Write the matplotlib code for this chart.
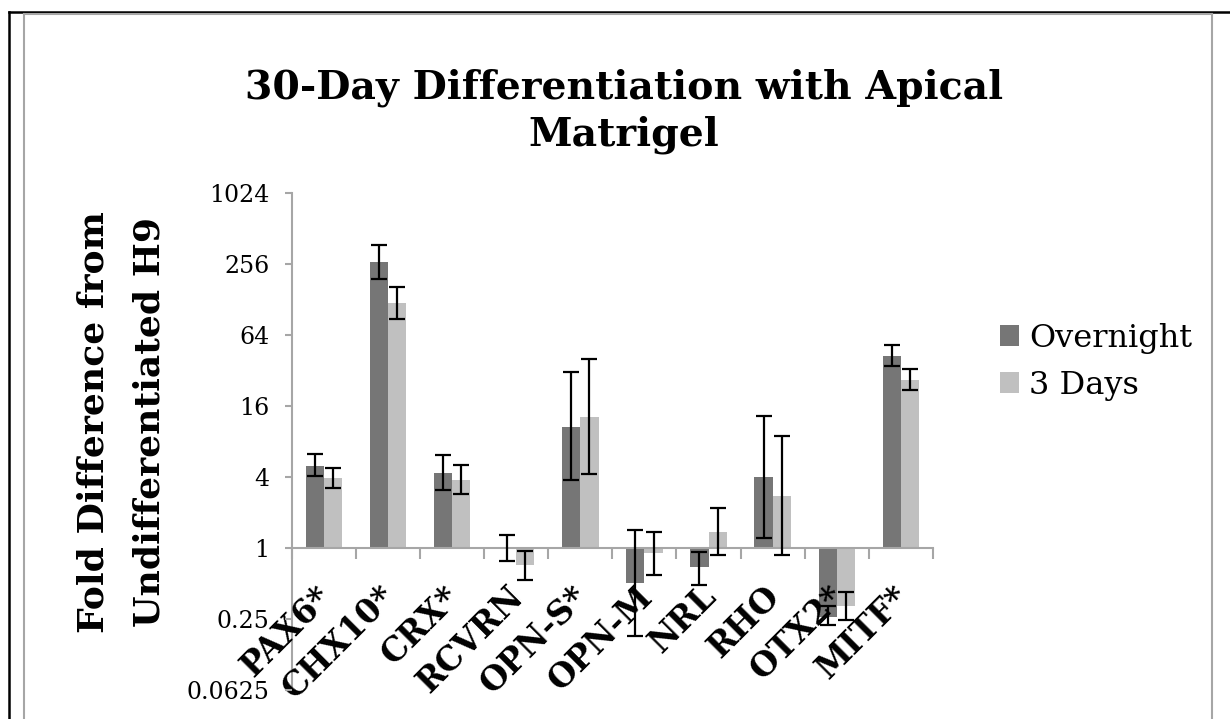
import numpy as np
import matplotlib
matplotlib.use('Agg')
import matplotlib.pyplot as plt
from matplotlib.lines import Line2D
from matplotlib.ticker import FixedLocator, FixedFormatter
from matplotlib.transforms import ScaledTranslation

# Data (fold difference, log2 axis)
genes = ['PAX6*', 'CHX10*', 'CRX*', 'RCVRN', 'OPN-S*', 'OPN-M', 'NRL', 'RHO', 'OTX2*', 'MITF*']
overnight = [4.97, 265, 4.3, 1.0, 10.6, 0.50, 0.68, 3.97, 0.26, 42.5]
overnight_lo = [4.02, 191, 3.06, 0.765, 3.72, 0.18, 0.48, 1.21, 0.22, 35]
overnight_hi = [6.23, 371, 6.06, 1.29, 31, 1.40, 0.92, 13.2, 0.32, 52]
days3 = [3.9, 119, 3.77, 0.71, 12.8, 0.90, 1.36, 2.74, 0.32, 26.6]
days3_lo = [3.2, 87, 2.87, 0.535, 4.21, 0.59, 0.86, 0.86, 0.245, 21.7]
days3_hi = [4.74, 164, 5.0, 0.93, 39.5, 1.37, 2.17, 8.85, 0.42, 32.9]
yticks = [0.0625, 0.25, 1, 4, 16, 64, 256, 1024]
ytick_labels = ['0.0625', '0.25', '1', '4', '16', '64', '256', '1024']

plt.rcParams['font.family'] = 'DejaVu Serif'

fig = plt.figure(figsize=(12.3, 7.19), dpi=100)
ax = fig.add_axes([0.2372, 0.0407, 0.5213, 0.6913])
ax.set_axisbelow(False)

x = np.arange(len(genes)) + 0.5
w = 0.285
ov = np.array(overnight)
d3 = np.array(days3)
ov_err = [ov - np.array(overnight_lo), np.array(overnight_hi) - ov]
d3_err = [d3 - np.array(days3_lo), np.array(days3_hi) - d3]

ax.bar(x - w / 2, ov - 1, bottom=1, width=w, color='#767676', label='Overnight', zorder=2)
ax.bar(x + w / 2, d3 - 1, bottom=1, width=w, color='#c0c0c0', label='3 Days', zorder=2)
ax.errorbar(x - w / 2, ov, yerr=ov_err, fmt='none', ecolor='black', elinewidth=1.6,
            capsize=6, capthick=1.6, zorder=3)
ax.errorbar(x + w / 2, d3, yerr=d3_err, fmt='none', ecolor='black', elinewidth=1.6,
            capsize=6, capthick=1.6, zorder=3)

ax.set_yscale('log', base=2)
ax.set_ylim(0.0625, 1024)
ax.set_xlim(0, len(genes))
ax.yaxis.set_major_locator(FixedLocator(yticks))
ax.yaxis.set_major_formatter(FixedFormatter(ytick_labels))
ax.yaxis.set_minor_locator(FixedLocator([]))

axis_gray = '#a6a6a6'
for s in ['top', 'right']:
    ax.spines[s].set_visible(False)
ax.spines['left'].set_color(axis_gray)
ax.spines['left'].set_linewidth(1.5)
ax.spines['bottom'].set_position(('data', 1))
ax.spines['bottom'].set_color(axis_gray)
ax.spines['bottom'].set_linewidth(1.5)

ax.tick_params(axis='y', which='major', length=5, width=1.5, color=axis_gray,
               labelsize=17, pad=11)
ax.set_xticks(x)
ax.set_xticklabels(genes, rotation=45, ha='right', rotation_mode='anchor',
                   fontsize=23.5, fontweight='bold')
ax.tick_params(axis='x', which='major', length=0, pad=23)
ax.set_xticks(np.arange(len(genes) + 1), minor=True)
ax.tick_params(axis='x', which='minor', length=8, width=1.5, color=axis_gray, direction='out')
shift = ScaledTranslation(-9 / 100, 0, fig.dpi_scale_trans)
for lab in ax.get_xticklabels():
    lab.set_transform(lab.get_transform() + shift)

fig.text(0.507, 0.878, '30-Day Differentiation with Apical', ha='center', va='center',
         fontsize=28.4, fontweight='bold')
fig.text(0.507, 0.812, 'Matrigel', ha='center', va='center',
         fontsize=28.4, fontweight='bold')
fig.text(0.0988, 0.413, 'Fold Difference from\nUndifferentiated H9', rotation=90,
         ha='center', va='center', multialignment='center', fontsize=26,
         fontweight='bold', linespacing=1.8)

ax.legend(loc='center left', bbox_to_anchor=(0.813, 0.497), bbox_transform=fig.transFigure,
          frameon=False, fontsize=23, handlelength=0.6, handleheight=0.6,
          handletextpad=0.32, labelspacing=0.5, borderpad=0, borderaxespad=0)

# page frame around the chart
fig.add_artist(Line2D([0.0073, 1.0], [0.9833, 0.9833], color='black', lw=1.8))
fig.add_artist(Line2D([0.0073, 0.0073], [0.0, 0.9833], color='black', lw=1.8))
fig.add_artist(Line2D([0.0195, 0.9854], [0.9805, 0.9805], color=axis_gray, lw=1.5))
fig.add_artist(Line2D([0.0195, 0.0195], [0.0, 0.9805], color=axis_gray, lw=1.5))
fig.add_artist(Line2D([0.9854, 0.9854], [0.0, 0.9805], color=axis_gray, lw=1.5))

fig.savefig('out.png', dpi=100)
